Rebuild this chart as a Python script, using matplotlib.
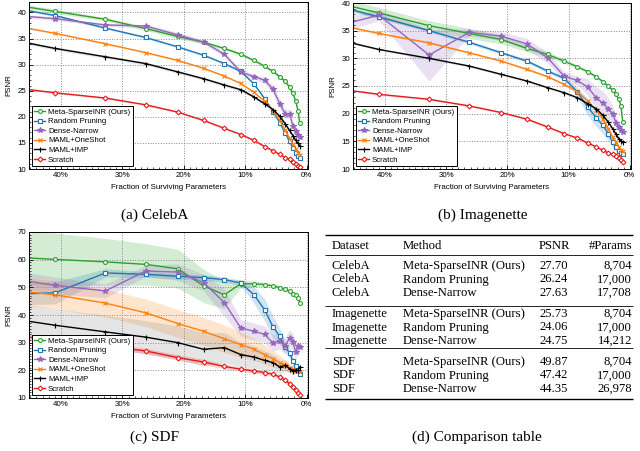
import matplotlib
matplotlib.use('Agg')
import matplotlib.pyplot as plt
from matplotlib.ticker import FixedLocator, MultipleLocator, FuncFormatter

plt.rcParams['font.family'] = ['Liberation Sans', 'DejaVu Sans']

# fraction of surviving parameters (%)
frac = [51.2, 40.96, 32.77, 26.21, 20.97, 16.78, 13.42, 10.74, 8.59,
        6.87, 5.50, 4.40, 3.52, 2.81, 2.25, 1.80, 1.44, 1.15]

methods = ['Meta-SparseINR (Ours)', 'Random Pruning', 'Dense-Narrow',
           'MAML+OneShot', 'MAML+IMP', 'Scratch']

# ---- CelebA
celeba_mean = {
    'Meta-SparseINR (Ours)': [42.1, 40.2, 38.7, 36.9, 35.4, 34.3, 33.1, 32.0, 30.8, 29.7, 28.7, 27.7, 26.8, 25.7, 24.5, 23.0, 21.2, 18.9],
    'Random Pruning': [41.6, 39.4, 37.0, 35.2, 33.4, 31.8, 30.2, 28.7, 26.3, 23.5, 21.0, 18.9, 16.9, 15.3, 14.0, 13.0, 12.5, 12.2],
    'Dense-Narrow': [39.8, 38.8, 37.6, 37.4, 35.7, 34.3, 32.0, 28.6, 27.7, 27.0, 25.3, 22.5, 20.6, 20.6, 18.2, 17.2, 16.6, 16.2],
    'MAML+OneShot': [38.2, 36.0, 34.0, 32.3, 30.8, 29.3, 27.8, 26.4, 24.7, 23.0, 21.2, 19.3, 17.4, 15.9, 14.8, 13.9, 13.1, 12.6],
    'MAML+IMP': [35.5, 33.1, 31.5, 30.2, 28.6, 27.3, 26.1, 25.2, 23.8, 22.5, 21.4, 20.1, 18.7, 17.4, 16.4, 15.5, 14.9, 14.5],
    'Scratch': [26.1, 24.6, 23.6, 22.3, 20.9, 19.3, 17.8, 16.6, 15.5, 14.3, 13.5, 12.8, 12.2, 11.9, 11.3, 11.0, 10.6, 10.3],
}
celeba_std = {
    'Meta-SparseINR (Ours)': [0.5, 0.4, 0.3, 0.4, 0.4, 0.3, 0.3, 0.3, 0.3, 0.3, 0.3, 0.3, 0.4, 0.4, 0.4, 0.4, 0.4, 0.4],
    'Random Pruning': [0.2, 0.2, 0.2, 0.2, 0.2, 0.2, 0.2, 0.2, 0.2, 0.2, 0.2, 0.2, 0.2, 0.2, 0.2, 0.2, 0.2, 0.2],
    'Dense-Narrow': [0.4, 0.3, 0.3, 0.3, 0.5, 0.4, 0.4, 0.4, 0.5, 0.6, 0.8, 0.9, 0.9, 0.8, 0.8, 0.7, 0.6, 0.6],
    'MAML+OneShot': [0.15, 0.15, 0.15, 0.15, 0.15, 0.15, 0.15, 0.15, 0.15, 0.15, 0.15, 0.15, 0.15, 0.15, 0.15, 0.15, 0.15, 0.15],
    'MAML+IMP': [0.3, 0.3, 0.3, 0.3, 0.3, 0.3, 0.3, 0.3, 0.3, 0.3, 0.3, 0.3, 0.3, 0.3, 0.3, 0.3, 0.3, 0.3],
    'Scratch': [0.15, 0.15, 0.15, 0.15, 0.15, 0.15, 0.15, 0.15, 0.15, 0.15, 0.15, 0.15, 0.15, 0.15, 0.15, 0.15, 0.15, 0.15],
}

# ---- Imagenette
imnet_mean = {
    'Meta-SparseINR (Ours)': [40.9, 38.2, 35.9, 34.5, 33.4, 31.8, 30.7, 29.5, 28.5, 27.6, 26.7, 25.8, 25.0, 24.3, 23.5, 22.6, 21.4, 18.5],
    'Random Pruning': [40.4, 37.5, 35.0, 32.9, 31.0, 29.5, 27.7, 26.4, 24.0, 21.2, 19.3, 17.9, 16.4, 14.9, 14.0, 13.3, 12.9, 12.8],
    'Dense-Narrow': [34.9, 37.8, 30.6, 34.7, 34.0, 32.6, 30.1, 26.8, 26.0, 24.8, 22.9, 21.9, 20.9, 20.0, 18.4, 17.5, 17.0, 16.7],
    'MAML+OneShot': [36.9, 34.5, 32.8, 31.0, 29.5, 28.0, 26.7, 25.3, 24.0, 22.3, 20.6, 19.1, 17.3, 15.8, 14.8, 14.0, 13.5, 13.3],
    'MAML+IMP': [34.3, 31.6, 30.0, 28.6, 27.1, 25.9, 24.7, 23.8, 22.9, 21.8, 20.9, 19.7, 18.5, 17.3, 16.3, 15.5, 15.1, 14.8],
    'Scratch': [25.0, 23.5, 22.6, 21.4, 20.2, 19.0, 17.6, 16.4, 15.6, 14.7, 14.0, 13.4, 12.9, 12.7, 12.3, 11.9, 11.6, 11.3],
}
imnet_std = {
    'Meta-SparseINR (Ours)': [1.0, 1.0, 0.9, 0.9, 0.8, 0.6, 0.5, 0.4, 0.3, 0.3, 0.3, 0.3, 0.3, 0.3, 0.3, 0.3, 0.3, 0.3],
    'Random Pruning': [0.3, 0.3, 0.3, 0.3, 0.3, 0.3, 0.3, 0.4, 0.8, 1.5, 1.6, 1.5, 1.2, 1.0, 0.8, 0.6, 0.5, 0.4],
    'Dense-Narrow': [1.5, 1.0, 4.7, 0.6, 0.8, 1.0, 1.0, 0.8, 0.8, 1.5, 2.0, 2.2, 2.0, 1.5, 1.0, 0.8, 0.6, 0.6],
    'MAML+OneShot': [0.2, 0.2, 0.2, 0.2, 0.2, 0.2, 0.2, 0.2, 0.2, 0.2, 0.2, 0.2, 0.2, 0.2, 0.2, 0.2, 0.2, 0.2],
    'MAML+IMP': [0.2, 0.2, 0.2, 0.2, 0.2, 0.2, 0.2, 0.2, 0.2, 0.2, 0.2, 0.2, 0.2, 0.2, 0.2, 0.2, 0.2, 0.2],
    'Scratch': [0.15, 0.15, 0.15, 0.15, 0.15, 0.15, 0.15, 0.15, 0.15, 0.15, 0.15, 0.15, 0.15, 0.15, 0.15, 0.15, 0.15, 0.15],
}

# ---- SDF
sdf_mean = {
    'Meta-SparseINR (Ours)': [61.3, 60.1, 59.2, 58.3, 56.7, 50.5, 47.3, 51.3, 51.3, 51.0, 50.5, 49.9, 49.3, 48.6, 47.7, 47.1, 46.1, 44.5],
    'Random Pruning': [47.3, 48.0, 55.2, 54.7, 54.0, 53.5, 52.8, 51.6, 47.3, 41.9, 35.7, 32.3, 28.4, 26.4, 23.3, 21.6, 20.0, 18.8],
    'Dense-Narrow': [54.3, 50.7, 48.7, 55.9, 55.5, 51.7, 44.5, 35.3, 34.1, 33.0, 29.9, 30.6, 28.8, 31.7, 30.2, 26.6, 28.7, 28.4],
    'MAML+OneShot': [49.7, 47.3, 44.3, 40.8, 36.9, 34.1, 31.4, 29.3, 27.6, 25.7, 24.2, 22.8, 21.8, 20.8, 20.4, 19.9, 19.6, 19.4],
    'MAML+IMP': [39.7, 36.3, 33.9, 32.0, 30.0, 27.6, 28.2, 25.7, 24.8, 23.6, 22.8, 21.2, 21.8, 20.6, 19.8, 20.2, 20.0, 21.2],
    'Scratch': [34.1, 30.5, 28.8, 27.0, 24.6, 23.0, 21.4, 20.4, 19.8, 19.2, 18.6, 17.6, 16.4, 15.2, 14.0, 13.0, 11.8, 11.2],
}
sdf_std = {
    'Meta-SparseINR (Ours)': [9.5, 9.5, 8.5, 7.5, 7.0, 6.0, 5.0, 1.5, 1.0, 0.8, 0.8, 0.8, 0.8, 0.8, 0.8, 0.8, 0.8, 0.8],
    'Random Pruning': [4.0, 4.0, 1.5, 1.0, 1.0, 1.0, 1.0, 1.0, 3.0, 4.0, 4.0, 3.0, 2.0, 2.0, 1.5, 1.0, 1.0, 1.0],
    'Dense-Narrow': [3.0, 3.0, 2.5, 2.0, 3.0, 3.0, 5.0, 3.0, 3.0, 3.0, 3.0, 3.0, 3.0, 3.0, 3.0, 3.0, 2.0, 2.0],
    'MAML+OneShot': [5.0, 5.0, 5.0, 5.0, 5.0, 5.0, 5.0, 4.5, 4.0, 3.5, 3.0, 2.5, 2.0, 1.5, 1.5, 1.0, 1.0, 1.0],
    'MAML+IMP': [6.0, 6.0, 6.0, 6.0, 6.0, 6.0, 5.5, 4.5, 4.0, 3.5, 3.0, 2.5, 2.0, 1.5, 1.5, 1.0, 1.0, 1.0],
    'Scratch': [1.0, 1.0, 1.0, 1.0, 1.0, 1.0, 0.8, 0.8, 0.8, 0.8, 0.8, 0.8, 0.8, 0.8, 0.8, 0.8, 0.8, 0.8],
}

xticks = [40, 30, 20, 10, 0]

styles = {
    'Meta-SparseINR (Ours)': dict(color='#2ca02c', marker='o', mfc='white', ms=2.8),
    'Random Pruning': dict(color='#1f77b4', marker='s', mfc='white', ms=2.6),
    'Dense-Narrow': dict(color='#9467bd', marker='*', mfc='#9467bd', ms=4.2),
    'MAML+OneShot': dict(color='#ff7f0e', marker='x', mfc='#ff7f0e', ms=2.6),
    'MAML+IMP': dict(color='black', marker='+', mfc='black', ms=3.6),
    'Scratch': dict(color='#e8191c', marker='D', mfc='white', ms=2.5),
}
band_col = {'MAML+IMP': 'gray'}

# comparison table
tab_dataset = ['CelebA', 'CelebA', 'CelebA', 'Imagenette', 'Imagenette', 'Imagenette', 'SDF', 'SDF', 'SDF']
tab_method = ['Meta-SparseINR (Ours)', 'Random Pruning', 'Dense-Narrow'] * 3
tab_psnr = ['27.70', '26.24', '27.63', '25.73', '24.06', '24.75', '49.87', '47.42', '44.35']
tab_params = ['8,704', '17,000', '17,708', '8,704', '17,000', '14,212', '8,704', '17,000', '26,978']

W, H = 640, 451
fig = plt.figure(figsize=(W / 100, H / 100), dpi=100)
fs = 5.7


def px_axes(x0, x1, ytop, ybot):
    return fig.add_axes([x0 / W, 1 - ybot / H, (x1 - x0) / W, (ybot - ytop) / H])


def panel(ax, means, stds, ylim, ystep):
    for m in methods:
        st = styles[m]
        lo = [a - b for a, b in zip(means[m], stds[m])]
        hi = [a + b for a, b in zip(means[m], stds[m])]
        ax.fill_between(frac, lo, hi, color=band_col.get(m, st['color']), alpha=0.2, lw=0)
        ax.plot(frac, means[m], color=st['color'], marker=st['marker'], mfc=st['mfc'],
                mec=st['color'], ms=st['ms'], mew=0.8, lw=1.0, label=m)
    ax.set_xlim(45.2, -0.2)
    ax.set_ylim(*ylim)
    ax.xaxis.set_major_locator(FixedLocator(xticks))
    ax.xaxis.set_minor_locator(MultipleLocator(1))
    ax.xaxis.set_major_formatter(FuncFormatter(lambda v, p: '%d%%' % round(v)))
    ax.yaxis.set_major_locator(MultipleLocator(ystep))
    ax.yaxis.set_minor_locator(MultipleLocator(1))
    ax.tick_params(which='both', direction='in', labelsize=fs, pad=2)
    ax.tick_params(which='major', length=3, width=0.6)
    ax.tick_params(which='minor', length=1.5, width=0.5)
    ax.grid(True, which='major', ls=':', color='#888888', lw=0.7)
    ax.set_xlabel('Fraction of Surviving Parameters', fontsize=fs, labelpad=4)
    ax.set_ylabel('PSNR', fontsize=fs, labelpad=4)
    for s in ax.spines.values():
        s.set_linewidth(0.7)
    leg = ax.legend(loc='lower left', fontsize=5.6, frameon=True, fancybox=False,
                    framealpha=1, edgecolor='black', handlelength=1.4,
                    handletextpad=0.35, borderpad=0.35, labelspacing=0.27,
                    borderaxespad=0.35)
    leg.get_frame().set_linewidth(0.7)
    leg.set_zorder(5)


ax_a = px_axes(29, 308, 2, 169)
panel(ax_a, celeba_mean, celeba_std, (10, 42), 5)
ax_b = px_axes(353, 631, 3, 169)
panel(ax_b, imnet_mean, imnet_std, (10, 40), 5)
ax_c = px_axes(29, 308, 232, 398)
panel(ax_c, sdf_mean, sdf_std, (10, 70), 10)

serif = ['Liberation Serif', 'DejaVu Serif']
fig.text(155 / W, 1 - 215 / H, '(a) CelebA', ha='center', va='center', family=serif, fontsize=11)
fig.text(483 / W, 1 - 215 / H, '(b) Imagenette', ha='center', va='center', family=serif, fontsize=11)
fig.text(155 / W, 1 - 437 / H, '(c) SDF', ha='center', va='center', family=serif, fontsize=11)
fig.text(477 / W, 1 - 437 / H, '(d) Comparison table', ha='center', va='center', family=serif, fontsize=11)

# table drawn in pixel coordinates
tax = fig.add_axes([0, 0, 1, 1], zorder=-1)
tax.set_xlim(0, W)
tax.set_ylim(H, 0)
tax.axis('off')
tx0, tx1 = 325, 633
tax.hlines([235, 399], tx0, tx1, color='black', lw=1.0)
tax.hlines([255, 306, 348], tx0, tx1, color='black', lw=0.6)
tkw = dict(family=serif, fontsize=9.1, va='center')
tax.text(332, 246, 'Dataset', ha='left', **tkw)
tax.text(403, 246, 'Method', ha='left', **tkw)
tax.text(554, 246, 'PSNR', ha='center', **tkw)
tax.text(632, 246, '#Params', ha='right', **tkw)
row_y = [266, 279.5, 293, 314, 327.5, 341, 362, 375.5, 389]
for i, y in enumerate(row_y):
    tax.text(332, y, tab_dataset[i], ha='left', **tkw)
    tax.text(403, y, tab_method[i], ha='left', **tkw)
    tax.text(554, y, tab_psnr[i], ha='center', **tkw)
    tax.text(632, y, tab_params[i], ha='right', **tkw)

fig.savefig('out.png', dpi=100)
